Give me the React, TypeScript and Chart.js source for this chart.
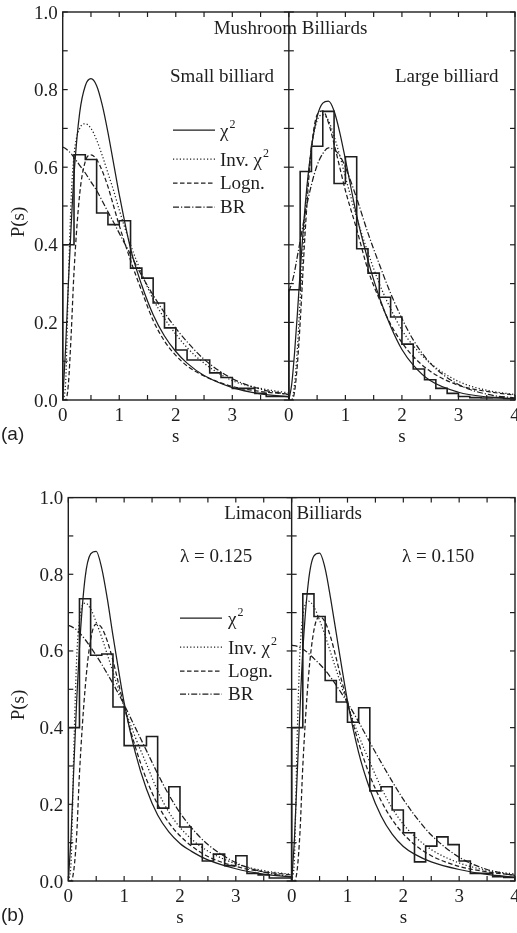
import React, { useEffect, useRef } from "react";
import { Chart, registerables } from "chart.js";
Chart.register(...registerables);

// ---------- data ----------
const S = [0, 0.05, 0.1, 0.15, 0.2, 0.3, 0.4, 0.5, 0.6, 0.7, 0.8, 0.9, 1.0, 1.2, 1.4, 1.6, 1.8, 2.0, 2.2, 2.5, 3.0, 3.5, 4.0];
const BIN_EDGES = [0, 0.2, 0.4, 0.6, 0.8, 1.0, 1.2, 1.4, 1.6, 1.8, 2.0, 2.2, 2.4, 2.6, 2.8, 3.0, 3.2, 3.4, 3.6, 3.8, 4.0];

// Mushroom, small billiard
const MS_HIST = [0.40, 0.632, 0.62, 0.482, 0.452, 0.462, 0.34, 0.314, 0.25, 0.186, 0.129, 0.103, 0.103, 0.07, 0.058, 0.03, 0.03, 0.017, 0.009, 0.009];
const MS_CHI2 = [0, 0.13, 0.3, 0.45, 0.58, 0.74, 0.81, 0.828, 0.81, 0.76, 0.69, 0.61, 0.53, 0.39, 0.295, 0.22, 0.165, 0.125, 0.095, 0.063, 0.032, 0.016, 0.008];
const MS_INV = [0, 0.04, 0.3, 0.52, 0.63, 0.70, 0.712, 0.70, 0.67, 0.63, 0.585, 0.54, 0.49, 0.40, 0.325, 0.26, 0.21, 0.17, 0.135, 0.095, 0.05, 0.03, 0.018];
const MS_LOGN = [0, 0, 0.04, 0.17, 0.33, 0.53, 0.615, 0.632, 0.62, 0.59, 0.55, 0.5, 0.45, 0.36, 0.28, 0.205, 0.152, 0.115, 0.088, 0.062, 0.035, 0.022, 0.015];
const MS_BR = [0.652, 0.648, 0.642, 0.635, 0.625, 0.605, 0.585, 0.562, 0.54, 0.513, 0.485, 0.458, 0.43, 0.375, 0.32, 0.27, 0.225, 0.185, 0.15, 0.105, 0.055, 0.028, 0.014];

// Mushroom, large billiard
const ML_HIST = [0.284, 0.589, 0.654, 0.744, 0.558, 0.627, 0.39, 0.327, 0.265, 0.214, 0.144, 0.08, 0.052, 0.03, 0.017, 0.009, 0.006, 0.005, 0.006, 0.004];
const ML_CHI2 = [0, 0.04, 0.12, 0.22, 0.33, 0.52, 0.65, 0.73, 0.765, 0.77, 0.745, 0.69, 0.62, 0.475, 0.36, 0.265, 0.19, 0.13, 0.09, 0.05, 0.02, 0.008, 0.003];
const ML_INV = [0, 0, 0.04, 0.13, 0.26, 0.5, 0.65, 0.72, 0.735, 0.72, 0.68, 0.63, 0.575, 0.47, 0.38, 0.3, 0.235, 0.18, 0.14, 0.095, 0.048, 0.025, 0.014];
const ML_LOGN = [0, 0, 0.02, 0.09, 0.2, 0.46, 0.65, 0.735, 0.745, 0.715, 0.66, 0.6, 0.54, 0.44, 0.335, 0.26, 0.195, 0.148, 0.112, 0.074, 0.038, 0.022, 0.013];
const ML_BR = [0.28, 0.3, 0.33, 0.37, 0.41, 0.49, 0.555, 0.605, 0.635, 0.65, 0.645, 0.63, 0.6, 0.52, 0.43, 0.35, 0.275, 0.21, 0.155, 0.095, 0.04, 0.015, 0.005];

// Limacon, lambda = 0.125
const L1_HIST = [0.40, 0.736, 0.589, 0.592, 0.454, 0.353, 0.353, 0.377, 0.19, 0.246, 0.141, 0.096, 0.052, 0.07, 0.04, 0.066, 0.02, 0.016, 0.008, 0.008];
const L1_CHI2 = [0, 0.12, 0.3, 0.47, 0.61, 0.79, 0.853, 0.86, 0.815, 0.735, 0.64, 0.55, 0.465, 0.335, 0.24, 0.172, 0.128, 0.098, 0.078, 0.055, 0.032, 0.018, 0.01];
const L1_INV = [0, 0.05, 0.35, 0.58, 0.68, 0.725, 0.71, 0.675, 0.635, 0.59, 0.545, 0.5, 0.455, 0.375, 0.305, 0.235, 0.18, 0.14, 0.11, 0.078, 0.045, 0.027, 0.017];
const L1_LOGN = [0, 0, 0.03, 0.12, 0.28, 0.5, 0.63, 0.67, 0.66, 0.625, 0.575, 0.515, 0.455, 0.35, 0.265, 0.2, 0.152, 0.118, 0.092, 0.064, 0.038, 0.024, 0.016];
const L1_BR = [0.667, 0.664, 0.66, 0.655, 0.648, 0.63, 0.61, 0.588, 0.565, 0.54, 0.515, 0.488, 0.46, 0.4, 0.34, 0.28, 0.225, 0.178, 0.14, 0.095, 0.048, 0.023, 0.011];

// Limacon, lambda = 0.150
const L2_HIST = [0.40, 0.749, 0.69, 0.523, 0.467, 0.414, 0.452, 0.235, 0.246, 0.185, 0.126, 0.05, 0.091, 0.115, 0.095, 0.052, 0.02, 0.02, 0.011, 0.009];
const L2_CHI2 = [0, 0.11, 0.28, 0.45, 0.6, 0.78, 0.848, 0.855, 0.815, 0.735, 0.645, 0.555, 0.47, 0.335, 0.24, 0.17, 0.122, 0.09, 0.07, 0.05, 0.03, 0.017, 0.01];
const L2_INV = [0, 0.06, 0.38, 0.6, 0.69, 0.73, 0.715, 0.68, 0.64, 0.595, 0.55, 0.505, 0.46, 0.38, 0.31, 0.245, 0.19, 0.148, 0.117, 0.082, 0.047, 0.028, 0.018];
const L2_LOGN = [0, 0, 0.03, 0.13, 0.3, 0.53, 0.655, 0.69, 0.675, 0.635, 0.58, 0.52, 0.465, 0.36, 0.275, 0.21, 0.16, 0.123, 0.095, 0.066, 0.038, 0.024, 0.015];
const L2_BR = [0.615, 0.614, 0.612, 0.609, 0.605, 0.594, 0.58, 0.566, 0.55, 0.531, 0.51, 0.488, 0.465, 0.415, 0.362, 0.31, 0.26, 0.213, 0.172, 0.12, 0.062, 0.03, 0.014];

const Y_LABELS = ["0.0", "0.2", "0.4", "0.6", "0.8", "1.0"];
const Y_LABEL_VALUES = [0, 0.2, 0.4, 0.6, 0.8, 1.0];
const X_LABELS_LEFT = ["0", "1", "2", "3"];
const X_LABELS_RIGHT = ["0", "1", "2", "3", "4"];
const LEGEND_LABELS = ["χ", "Inv. χ", "Logn.", "BR"];

// ---------- styles ----------
const INK = "#1e1e1e";
const SERIF = '"Liberation Serif", "Times New Roman", serif';
const SANS = '"Liberation Sans", Arial, sans-serif';
const DASHES = [[], [1.2, 2.2], [4.5, 2.5], [6, 2, 1.2, 2]];
const W = 517;

function curve(vals: number[], off: number, dash: number[]) {
  return {
    data: S.map((s, i) => ({ x: s + off, y: vals[i] })),
    borderColor: INK,
    borderWidth: 1.25,
    borderDash: dash,
    borderCapStyle: "butt",
    pointRadius: 0,
    cubicInterpolationMode: "monotone",
    tension: 0.4,
    fill: false,
  };
}

function hist(vals: number[], off: number) {
  const pts: { x: number; y: number }[] = [{ x: BIN_EDGES[0] + off, y: 0 }];
  vals.forEach((v, i) => pts.push({ x: BIN_EDGES[i] + off, y: v }));
  const last = BIN_EDGES[BIN_EDGES.length - 1] + off;
  pts.push({ x: last, y: vals[vals.length - 1] });
  pts.push({ x: last, y: 0 });
  return {
    data: pts,
    borderColor: INK,
    borderWidth: 1.6,
    stepped: "before",
    pointRadius: 0,
    fill: false,
  };
}

function txt(ctx: CanvasRenderingContext2D, s: string, x: number, y: number, align: CanvasTextAlign, font: string, sx = 1) {
  ctx.save();
  ctx.font = font;
  ctx.textAlign = align;
  ctx.textBaseline = "alphabetic";
  ctx.fillStyle = INK;
  ctx.translate(x, y);
  ctx.scale(sx, 1);
  ctx.fillText(s, 0, 0);
  ctx.restore();
}

function seg(ctx: CanvasRenderingContext2D, x0: number, y0: number, x1: number, y1: number) {
  ctx.beginPath();
  ctx.moveTo(x0, y0);
  ctx.lineTo(x1, y1);
  ctx.stroke();
}

type RowCfg = {
  height: number;
  top: number;
  left: number;
  bottom: number;
  panelLabel: string;
  title: string;
  titleX: number;
  titleY: number;
  notes: { text: string; x: number; y: number }[];
  legend: { lx0: number; lx1: number; tx: number; lines: number[]; bases: number[] };
  pLabelY: number;
  sets: { hist: number[]; chi2: number[]; inv: number[]; logn: number[]; br: number[] }[];
};

function makePlugin(cfg: RowCfg) {
  return {
    id: "decor",
    afterDatasetsDraw(chart: any) {
      const { ctx, chartArea: a, scales } = chart;
      const x = scales.x;
      const y = scales.y;
      ctx.save();
      ctx.strokeStyle = INK;
      ctx.lineWidth = 1.4;
      ctx.setLineDash([]);
      ctx.strokeRect(a.left, a.top, a.right - a.left, a.bottom - a.top);
      const xm = x.getPixelForValue(4);
      seg(ctx, xm, a.top, xm, a.bottom);
      ctx.lineWidth = 1.2;
      const TL = 5;
      for (const t of y.ticks) {
        const py = y.getPixelForValue(t.value);
        seg(ctx, a.left, py, a.left + TL, py);
        seg(ctx, xm - TL, py, xm + TL, py);
        seg(ctx, a.right - TL, py, a.right, py);
      }
      for (const t of x.ticks) {
        const px = x.getPixelForValue(t.value);
        seg(ctx, px, a.bottom, px, a.bottom - TL);
        seg(ctx, px, a.top, px, a.top + TL);
      }
      // tick labels
      const tickFont = `19px ${SERIF}`;
      Y_LABEL_VALUES.forEach((v, i) => {
        txt(ctx, Y_LABELS[i], a.left - 5, y.getPixelForValue(v) + 6.5, "right", tickFont);
      });
      X_LABELS_LEFT.forEach((l, i) => {
        txt(ctx, l, x.getPixelForValue(i), a.bottom + 21, "center", tickFont);
      });
      X_LABELS_RIGHT.forEach((l, i) => {
        txt(ctx, l, x.getPixelForValue(i + 4), a.bottom + 21, "center", tickFont);
      });
      // axis titles
      const f19 = `19px ${SERIF}`;
      txt(ctx, "s", x.getPixelForValue(2), a.bottom + 42, "center", f19);
      txt(ctx, "s", x.getPixelForValue(6), a.bottom + 42, "center", f19);
      ctx.save();
      ctx.translate(24, cfg.pLabelY);
      ctx.rotate(-Math.PI / 2);
      txt(ctx, "P(s)", 0, 0, "center", f19);
      ctx.restore();
      txt(ctx, cfg.panelLabel, 1, a.bottom + 40, "left", `19px ${SANS}`);
      // title and notes
      txt(ctx, cfg.title, cfg.titleX, cfg.titleY, "center", f19);
      cfg.notes.forEach((n) => txt(ctx, n.text, n.x, n.y, "left", f19));
      // legend
      const lg = cfg.legend;
      LEGEND_LABELS.forEach((lab, i) => {
        ctx.save();
        ctx.lineWidth = 1.25;
        ctx.setLineDash(DASHES[i]);
        seg(ctx, lg.lx0, lg.lines[i], lg.lx1, lg.lines[i]);
        ctx.restore();
        txt(ctx, lab, lg.tx, lg.bases[i], "left", f19);
        if (i < 2) {
          ctx.save();
          ctx.font = f19;
          const w = ctx.measureText(lab).width;
          ctx.restore();
          txt(ctx, "2", lg.tx + w + 1, lg.bases[i] - 9, "left", `12px ${SERIF}`);
        }
      });
      ctx.restore();
    },
  };
}

function buildConfig(cfg: RowCfg) {
  const datasets: any[] = [];
  cfg.sets.forEach((p, k) => {
    const off = k * 4;
    datasets.push(hist(p.hist, off));
    datasets.push(curve(p.chi2, off, DASHES[0]));
    datasets.push(curve(p.inv, off, DASHES[1]));
    datasets.push(curve(p.logn, off, DASHES[2]));
    datasets.push(curve(p.br, off, DASHES[3]));
  });
  return {
    type: "line",
    data: { datasets },
    options: {
      responsive: false,
      animation: false,
      devicePixelRatio: 1,
      events: [],
      layout: { padding: { top: cfg.top, right: 2, left: 0, bottom: 0 } },
      plugins: { legend: { display: false }, tooltip: { enabled: false } },
      scales: {
        x: {
          type: "linear",
          min: 0,
          max: 8,
          afterFit: (s: any) => {
            s.height = cfg.height - cfg.bottom;
          },
          ticks: { display: false, stepSize: 0.5, autoSkip: false },
          grid: { display: false, drawTicks: false, tickLength: 0 },
          border: { display: false },
        },
        y: {
          type: "linear",
          min: 0,
          max: 1,
          afterFit: (s: any) => {
            s.width = cfg.left;
          },
          ticks: { display: false, stepSize: 0.1, autoSkip: false },
          grid: { display: false, drawTicks: false, tickLength: 0 },
          border: { display: false },
        },
      },
    },
    plugins: [makePlugin(cfg)],
  };
}

const TOP_ROW: RowCfg = {
  height: 466,
  top: 12,
  left: 62.7,
  bottom: 400,
  panelLabel: "(a)",
  title: "Mushroom Billiards",
  titleX: 290.5,
  titleY: 34,
  notes: [
    { text: "Small billiard", x: 170, y: 82 },
    { text: "Large billiard", x: 395, y: 82 },
  ],
  legend: { lx0: 173, lx1: 215, tx: 220, lines: [130, 159, 183, 207], bases: [137, 166, 189, 213] },
  pLabelY: 222,
  sets: [
    { hist: MS_HIST, chi2: MS_CHI2, inv: MS_INV, logn: MS_LOGN, br: MS_BR },
    { hist: ML_HIST, chi2: ML_CHI2, inv: ML_INV, logn: ML_LOGN, br: ML_BR },
  ],
};

const BOT_OFF = 466;
const BOTTOM_ROW: RowCfg = {
  height: 467,
  top: 497.6 - BOT_OFF,
  left: 68.3,
  bottom: 881 - BOT_OFF,
  panelLabel: "(b)",
  title: "Limacon Billiards",
  titleX: 293,
  titleY: 519 - BOT_OFF,
  notes: [
    { text: "λ = 0.125", x: 180, y: 562 - BOT_OFF },
    { text: "λ = 0.150", x: 402, y: 562 - BOT_OFF },
  ],
  legend: {
    lx0: 180,
    lx1: 222,
    tx: 228,
    lines: [618 - BOT_OFF, 647 - BOT_OFF, 671 - BOT_OFF, 694 - BOT_OFF],
    bases: [625 - BOT_OFF, 654 - BOT_OFF, 677 - BOT_OFF, 700 - BOT_OFF],
  },
  pLabelY: 705 - BOT_OFF,
  sets: [
    { hist: L1_HIST, chi2: L1_CHI2, inv: L1_INV, logn: L1_LOGN, br: L1_BR },
    { hist: L2_HIST, chi2: L2_CHI2, inv: L2_INV, logn: L2_LOGN, br: L2_BR },
  ],
};

function Row({ cfg, y }: { cfg: RowCfg; y: number }) {
  const ref = useRef<HTMLCanvasElement | null>(null);
  useEffect(() => {
    if (!ref.current) return;
    const chart = new Chart(ref.current, buildConfig(cfg) as any);
    return () => chart.destroy();
  }, [cfg]);
  return (
    <canvas
      ref={ref}
      width={W}
      height={cfg.height}
      style={{ position: "absolute", left: 0, top: y, width: W, height: cfg.height }}
    />
  );
}

export default function App() {
  return (
    <div style={{ position: "absolute", left: 0, top: 0, width: W, height: 933, background: "#fff" }}>
      <Row cfg={TOP_ROW} y={0} />
      <Row cfg={BOTTOM_ROW} y={BOT_OFF} />
    </div>
  );
}
